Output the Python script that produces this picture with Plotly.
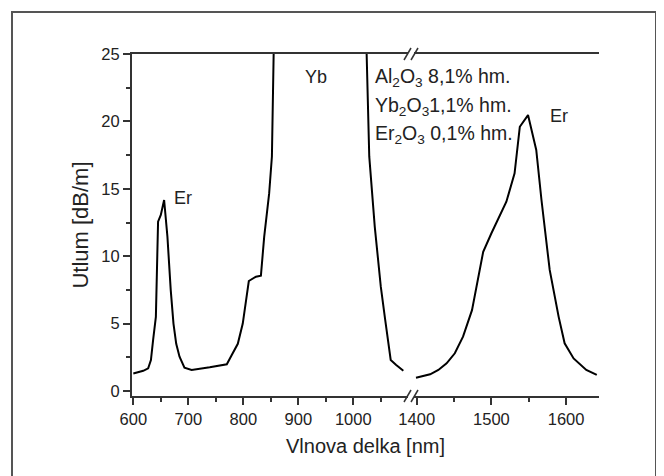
import plotly.graph_objects as go

# ---- data ----
left_x = [600, 618, 627, 632, 636, 641, 645, 650, 656, 662, 668, 673, 678, 684, 693, 706,
          739, 770, 779, 790, 799, 810, 823, 832, 838, 847, 852, 856,
          1023, 1029, 1039, 1050, 1058, 1068, 1078, 1091]
left_y = [1.3, 1.5, 1.68, 2.3, 3.8, 5.5, 12.56, 13.06, 14.17, 11.45, 7.5, 5.0, 3.5, 2.55, 1.73, 1.56,
          1.76, 1.98, 2.67, 3.5, 5.0, 8.16, 8.48, 8.56, 11.45, 14.66, 17.4, 27.0,
          27.0, 17.4, 12.2, 7.74, 5.27, 2.3, 1.93, 1.5]

right_x = [1399, 1418, 1429, 1440, 1451, 1462, 1474, 1489, 1500, 1509, 1520, 1531, 1538, 1549,
           1560, 1567, 1578, 1590, 1598, 1610, 1627, 1641]
right_y = [0.99, 1.24, 1.56, 2.05, 2.8, 4.03, 6.0, 10.33, 11.7, 12.8, 14.04, 16.15, 19.6, 20.47,
           17.88, 14.17, 8.98, 5.5, 3.54, 2.42, 1.56, 1.19]

left_ticks = [600, 700, 800, 900, 1000]
right_ticks = [1400, 1500, 1600]
y_ticks = [0, 5, 10, 15, 20, 25]

labels = ["Yb", "Er", "Er"]
composition = ["Al<sub>2</sub>O<sub>3</sub> 8,1% hm.",
               "Yb<sub>2</sub>O<sub>3</sub>1,1% hm.",
               "Er<sub>2</sub>O<sub>3</sub> 0,1% hm."]

FONT = "Arial, Liberation Sans, sans-serif"
AX = "#333333"
TXT = "#222222"

# the page places the figure 8 px from the top-left corner, so the figure is
# laid out 8 px smaller; coordinates below are screen pixels of the reference
OFF = 8
FW, FH = 664 - OFF, 476 - OFF
L, R, T, B = 132, 599, 54, 396
W, H = R - L, B - T
def px(x):
    return (x - L) / W
def py(y):
    return (B - y) / H

split = px(407.75)

fig = go.Figure()
fig.add_trace(go.Scatter(x=left_x, y=left_y, mode="lines", xaxis="x", yaxis="y",
                         line=dict(color="black", width=2), showlegend=False))
fig.add_trace(go.Scatter(x=right_x, y=right_y, mode="lines", xaxis="x2", yaxis="y",
                         line=dict(color="black", width=2), showlegend=False))

common_x = dict(showline=True, linecolor=AX, linewidth=2, mirror=True, ticks="outside",
                ticklen=7, tickwidth=1.5, tickcolor=AX, showgrid=False, zeroline=False,
                tickfont=dict(family=FONT, size=16.5, color=TXT), anchor="y")

fig.update_layout(
    width=FW, height=FH,
    margin=dict(l=L - OFF, r=FW - (R - OFF), t=T - OFF, b=FH - (B - OFF)),
    paper_bgcolor="white", plot_bgcolor="white",
    font=dict(family=FONT, color=TXT),
    xaxis=dict(domain=[0, split], range=[597.6, 1099], tickmode="array", tickvals=left_ticks,
               minor=dict(dtick=50, tick0=600, ticklen=4, tickwidth=1.5, tickcolor=AX, ticks="outside"),
               **common_x),
    xaxis2=dict(domain=[split, 1], range=[1388.0, 1644], tickmode="array", tickvals=right_ticks,
                minor=dict(dtick=50, tick0=1400, ticklen=4, tickwidth=1.5, tickcolor=AX, ticks="outside"),
                **common_x),
    yaxis=dict(range=[-0.37, 25], tickmode="array", tickvals=y_ticks, showline=True, linecolor=AX,
               linewidth=2, ticks="outside", ticklen=7, tickwidth=1.5, tickcolor=AX,
               minor=dict(dtick=2.5, tick0=0, ticklen=4, tickwidth=1.5, tickcolor=AX, ticks="outside"),
               showgrid=False, zeroline=False, anchor="x",
               tickfont=dict(family=FONT, size=16.5, color=TXT),
               title=dict(text="Utlum [dB/m]", font=dict(family=FONT, size=22, color=TXT), standoff=7)),
    yaxis2=dict(range=[-0.37, 25], overlaying="y", anchor="free", position=1, side="right",
                showline=True, linecolor=AX, linewidth=2, ticks="", showticklabels=False,
                showgrid=False, zeroline=False),
)

# x-axis title centred under the whole (broken) axis
fig.add_annotation(x=0.5, y=py(446), xref="paper", yref="paper", text="Vlnova delka [nm]",
                   showarrow=False, xanchor="center", yanchor="middle",
                   font=dict(family=FONT, size=20, color=TXT))

# peak labels
fig.add_annotation(x=933, y=23.3, xref="x", yref="y", text=labels[0], showarrow=False,
                   font=dict(family=FONT, size=18, color=TXT))
fig.add_annotation(x=691, y=14.3, xref="x", yref="y", text=labels[1], showarrow=False,
                   font=dict(family=FONT, size=18, color=TXT))
fig.add_annotation(x=1590, y=20.4, xref="x2", yref="y", text=labels[2], showarrow=False,
                   font=dict(family=FONT, size=18, color=TXT))

# composition block
for txt, ypix in zip(composition, [77, 106.5, 135]):
    fig.add_annotation(x=px(373), y=py(ypix), xref="paper", yref="paper", text=txt,
                       showarrow=False, xanchor="left", yanchor="middle",
                       font=dict(family=FONT, size=19.5, color=TXT))

# axis break marks (top and bottom)
shapes = []
for yc in (T, B):
    shapes.append(dict(type="rect", xref="paper", yref="paper", x0=px(408), x1=px(414),
                       y0=py(yc + 2), y1=py(yc - 2), fillcolor="white", line=dict(width=0),
                       layer="above"))
    for dx in (0, 7):
        shapes.append(dict(type="line", xref="paper", yref="paper",
                           x0=px(404 + dx), y0=py(yc + 6), x1=px(411 + dx), y1=py(yc - 6),
                           line=dict(color=AX, width=1.5), layer="above"))
# outer picture frame
shapes.append(dict(type="rect", xref="paper", yref="paper", x0=px(12), x1=px(656),
                   y0=py(490), y1=py(12), line=dict(color="#555", width=2), layer="below"))
fig.update_layout(shapes=shapes)

fig.write_html("out.html")
